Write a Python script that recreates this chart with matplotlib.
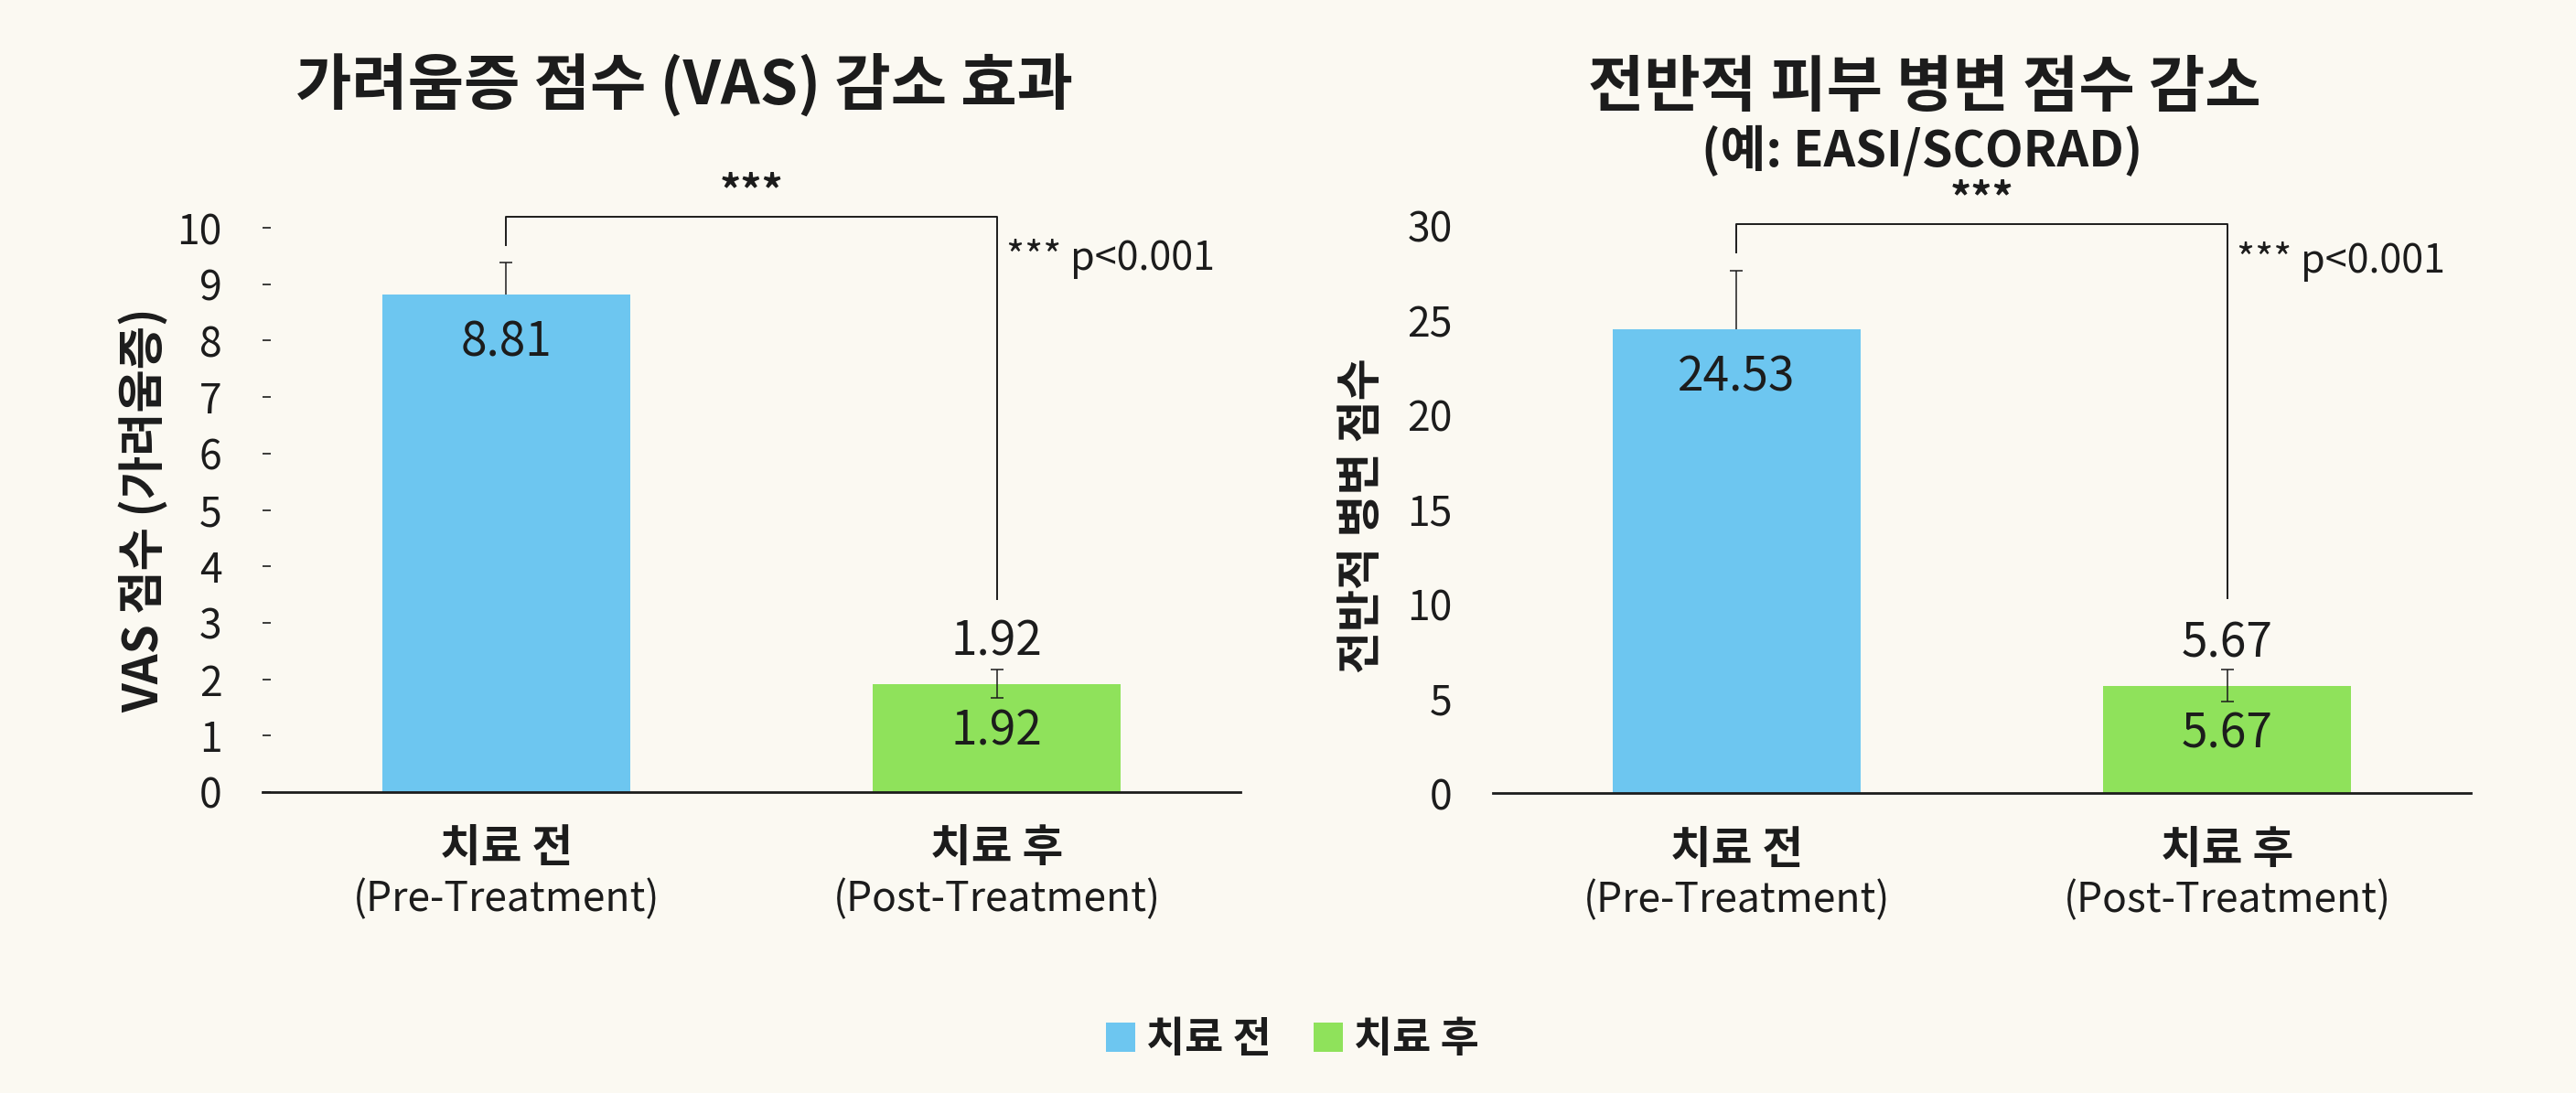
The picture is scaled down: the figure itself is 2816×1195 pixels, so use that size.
import matplotlib
matplotlib.use("Agg")
import matplotlib.pyplot as plt
from matplotlib.patches import Patch

plt.rcParams["font.family"] = ["Noto Sans CJK KR", "DejaVu Sans"]

# ── data ──────────────────────────────────────────────────────────────────────
CATS_KO = ["치료 전", "치료 후"]
CATS_EN = ["(Pre-Treatment)", "(Post-Treatment)"]

VAS_MEAN = [8.81, 1.92]
VAS_ERR_LO = [0.0, 0.25]
VAS_ERR_HI = [0.57, 0.25]
VAS_TICKS = list(range(0, 11))

LES_MEAN = [24.53, 5.67]
LES_ERR_LO = [0.0, 0.85]
LES_ERR_HI = [3.1, 0.85]
LES_TICKS = [0, 5, 10, 15, 20, 25, 30]

BG = "#fbf9f2"
C_PRE = "#6dc6f0"
C_POST = "#8fe25b"
INK = "#1c1c1c"

W, H = 2816, 1195
fig = plt.figure(figsize=(W / 100, H / 100), dpi=100, facecolor=BG)


def panel(rect, means, lo, hi, ticks, ymax, bracket, leg_lo, star_y, p_y,
          tickmarks):
    ax = fig.add_axes(rect)
    ax.set_facecolor(BG)
    x = [0, 1]
    ax.bar(x, means, width=0.505, color=[C_PRE, C_POST], zorder=2)
    for i in x:
        _, caps, _ = ax.errorbar([i], [means[i]], yerr=[[lo[i]], [hi[i]]],
                                 fmt="none", ecolor=INK, elinewidth=1.1,
                                 capsize=5, capthick=1.1, zorder=3)
        if lo[i] == 0:          # upper whisker only
            caps[0].set_visible(False)
    ax.set_xlim(-0.497, 1.497)
    ax.set_ylim(0, ymax)
    for s in ["top", "right", "left"]:
        ax.spines[s].set_visible(False)
    ax.spines["bottom"].set_linewidth(2.0)
    ax.spines["bottom"].set_color(INK)
    ax.set_xticks([])
    ax.set_yticks(ticks)
    ax.set_yticklabels([str(t) for t in ticks])
    ax.tick_params(axis="y", direction="in", length=6.5 if tickmarks else 0,
                   width=1.2, color=INK, pad=32, labelsize=32, labelcolor=INK)

    # value labels
    ax.text(0, means[0] - 0.077 * ymax, f"{means[0]:.2f}", ha="center",
            va="center", fontsize=37, color=INK, zorder=4)
    ax.text(1, means[1] - 0.077 * ymax, f"{means[1]:.2f}", ha="center",
            va="center", fontsize=37, color=INK, zorder=4)
    ax.text(1, means[1] + 0.068 * ymax, f"{means[1]:.2f}", ha="center",
            va="center", fontsize=37, color=INK, zorder=4)

    # significance bracket
    ax.plot([0, 0, 1, 1], [leg_lo[0], bracket, bracket, leg_lo[1]],
            color=INK, lw=1.4, clip_on=False, zorder=3)
    ax.text(0.5, star_y, "***", ha="center", va="center", fontsize=33,
            fontweight="bold", color=INK)
    ax.text(1.02, p_y, "*** p<0.001", ha="left", va="center", fontsize=31,
            color=INK)

    # category labels (two lines, different weights)
    tr = ax.get_xaxis_transform()
    for i in x:
        ax.text(i, -0.091, CATS_KO[i], transform=tr, ha="center",
                va="center", fontsize=35, fontweight="bold", color=INK)
        ax.text(i, -0.172, CATS_EN[i], transform=tr, ha="center",
                va="center", fontsize=32, color=INK)
    return ax


# ── left: VAS ─────────────────────────────────────────────────────────────────
panel([287 / W, 1 - 866 / H, 1069 / W, 11 * 61.7 / H],
      VAS_MEAN, VAS_ERR_LO, VAS_ERR_HI, VAS_TICKS, 11,
      bracket=10.19, leg_lo=(9.69, 3.42), star_y=10.63, p_y=9.45,
      tickmarks=True)
fig.text(748 / W, 1 - 93 / H, "가려움증 점수 (VAS) 감소 효과", ha="center",
         va="center", fontsize=48, fontweight="bold", color=INK)
fig.text(158 / W, 1 - 558 / H, "VAS 점수 (가려움증)", ha="center",
         va="center", rotation=90, fontsize=37, fontweight="bold", color=INK)

# ── right: lesion score ───────────────────────────────────────────────────────
panel([1632 / W, 1 - 867 / H, 1069 / W, 33 * 20.67 / H],
      LES_MEAN, LES_ERR_LO, LES_ERR_HI, LES_TICKS, 33,
      bracket=30.08, leg_lo=(28.6, 10.3), star_y=31.37, p_y=28.1,
      tickmarks=False)
fig.text(2104 / W, 1 - 97 / H, "전반적 피부 병변 점수 감소", ha="center",
         va="center", fontsize=48, fontweight="bold", color=INK)
fig.text(2101 / W, 1 - 166 / H, "(예: EASI/SCORAD)", ha="center",
         va="center", fontsize=39, fontweight="bold", color=INK)
fig.text(1489 / W, 1 - 564 / H, "전반적 병변 점수", ha="center",
         va="center", rotation=90, fontsize=36, fontweight="bold", color=INK)

# ── legend ────────────────────────────────────────────────────────────────────
handles = [Patch(facecolor=C_PRE, label=CATS_KO[0]),
           Patch(facecolor=C_POST, label=CATS_KO[1])]
leg = fig.legend(handles=handles, loc="center", ncol=2,
                 bbox_to_anchor=(1413 / W, 1 - 1137 / H), frameon=False,
                 prop={"size": 33, "weight": "bold"}, handlelength=0.7,
                 handleheight=0.7, handletextpad=0.26, columnspacing=1.0)
for t in leg.get_texts():
    t.set_color(INK)

fig.savefig("out.png", dpi=100, facecolor=BG)
